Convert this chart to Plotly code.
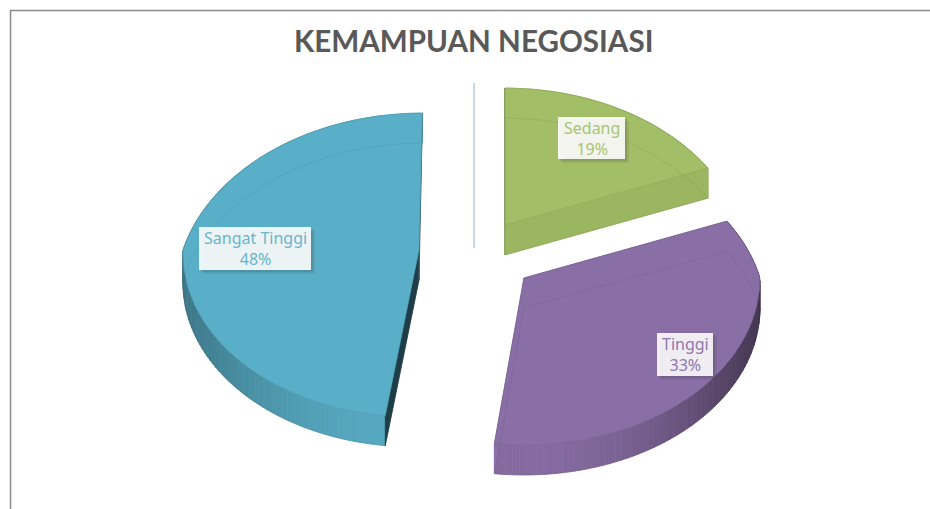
import math
import plotly.graph_objects as go

TITLE = "KEMAMPUAN NEGOSIASI"
categories = ["Sedang", "Tinggi", "Sangat Tinggi"]
percent_values = [19, 33, 48]

# drawing styles and layout, kept apart from the data
top_colors = ["#A2BE66", "#8A6FA6", "#5AAFC8"]
label_colors = ["#A9C573", "#8F77AE", "#66B6CE"]
start_cut = ["#56702C", "#8A6FA6", "#1E3D46"]
end_cut = ["#9AB660", "#8A6FA6", "#34606C"]
wall_dark = [0.2, 0.5, 0.3]
apex_x = [505, 524, 419]
apex_y = [225, 278, 250]
skews = [0.0, 0.0, 0.025]
label_boxes = [(558, 117, 625, 159), (657, 333, 713, 376), (199, 227, 311, 270)]
RX, RY, PERSP, DEPTH = 236, 167, 0.22, 30


def project(i, theta, depth=0.0):
    sx, cy = math.sin(theta), math.cos(theta)
    k = 1 / (1 + PERSP * max(cy, 0))
    dy = -RY * cy * k
    return apex_x[i] + RX * sx * k - skews[i] * dy, apex_y[i] + dy + depth


def apex(i, depth=0.0):
    return apex_x[i], apex_y[i] + depth


def rim(i, a, b, depth=0.0):
    n = max(8, int(abs(b - a) / math.radians(1.5)))
    return [project(i, a + (b - a) * j / n, depth) for j in range(n + 1)]


def shade(color, f):
    c = [int(color[j:j + 2], 16) for j in (1, 3, 5)]
    return "rgb({},{},{})".format(*[int(v * f) for v in c])


fig = go.Figure()


def poly(pts, fill=None, line=None, width=0.8, closed=True):
    xs = [p[0] for p in pts]
    ys = [p[1] for p in pts]
    if closed:
        xs.append(xs[0])
        ys.append(ys[0])
    fig.add_trace(go.Scatter(
        x=xs, y=ys, mode="lines", fill="toself" if fill else None,
        fillcolor=fill, line=dict(color=line or fill, width=width),
        hoverinfo="skip", showlegend=False))


total = sum(percent_values)
start = 0.0
for i, val in enumerate(percent_values):
    a = 2 * math.pi * start / total
    b = 2 * math.pi * (start + val) / total
    start += val
    # outer wall, shaded by its facing direction
    steps = max(4, int((b - a) / math.radians(1.5)))
    for j in range(steps):
        t0 = a + (b - a) * j / steps
        t1 = a + (b - a) * (j + 1) / steps
        f = 1 - wall_dark[i] * math.sin((t0 + t1) / 2) ** 2
        col = shade(top_colors[i], f * 0.97)
        poly([project(i, t0), project(i, t1),
              project(i, t1, DEPTH), project(i, t0, DEPTH)], fill=col, width=0.8)
    # the two cut faces
    poly([apex(i), project(i, a), project(i, a, DEPTH), apex(i, DEPTH)], fill=start_cut[i])
    poly([apex(i), project(i, b), project(i, b, DEPTH), apex(i, DEPTH)], fill=end_cut[i])
    # top face
    poly([apex(i)] + rim(i, a, b), fill=top_colors[i], line=shade(top_colors[i], 0.88), width=0.7)
    # lower face, seen faintly through the top
    poly([apex(i, DEPTH)] + rim(i, a, b, DEPTH), line="rgba(40,40,60,0.11)", width=0.8)

shapes = [
    dict(type="line", x0=10.5, x1=10.5, y0=10, y1=509, line=dict(color="#8C8C8C", width=1.5)),
    dict(type="line", x0=10, x1=930, y0=10.5, y1=10.5, line=dict(color="#8C8C8C", width=1.5)),
    dict(type="line", x0=474, x1=474, y0=83, y1=248, line=dict(color="#B7CBE3", width=1.5)),
]
annotations = [dict(x=473, y=40, text="<b>%s</b>" % TITLE, showarrow=False, xanchor="center",
                    yanchor="middle", font=dict(family="Lato", size=29.6, color="#595959"))]
for i, (name, val) in enumerate(zip(categories, percent_values)):
    x0, y0, x1, y1 = label_boxes[i]
    for off, alpha in ((4, 0.10), (2, 0.14)):
        shapes.append(dict(type="rect", x0=x0 + off, x1=x1 + off, y0=y0 + off, y1=y1 + off,
                           fillcolor="rgba(50,50,50,%.2f)" % alpha, line=dict(width=0)))
    shapes.append(dict(type="rect", x0=x0, x1=x1, y0=y0, y1=y1,
                       fillcolor="rgba(255,255,255,0.89)", line=dict(width=0)))
    annotations.append(dict(x=(x0 + x1) / 2, y=(y0 + y1) / 2, text="%s<br>%d%%" % (name, val),
                            showarrow=False, xanchor="center", yanchor="middle",
                            font=dict(family="Noto Sans", size=16, color=label_colors[i])))

fig.update_layout(
    width=930, height=509, margin=dict(l=0, r=0, t=0, b=0),
    paper_bgcolor="white", plot_bgcolor="white", showlegend=False,
    xaxis=dict(range=[0, 930], visible=False, fixedrange=True),
    yaxis=dict(range=[509, 0], visible=False, fixedrange=True),
    shapes=shapes, annotations=annotations)

fig.write_html("out.html", config={"displayModeBar": False},
               post_script="document.body.style.margin='0';document.body.style.overflow='hidden';")
